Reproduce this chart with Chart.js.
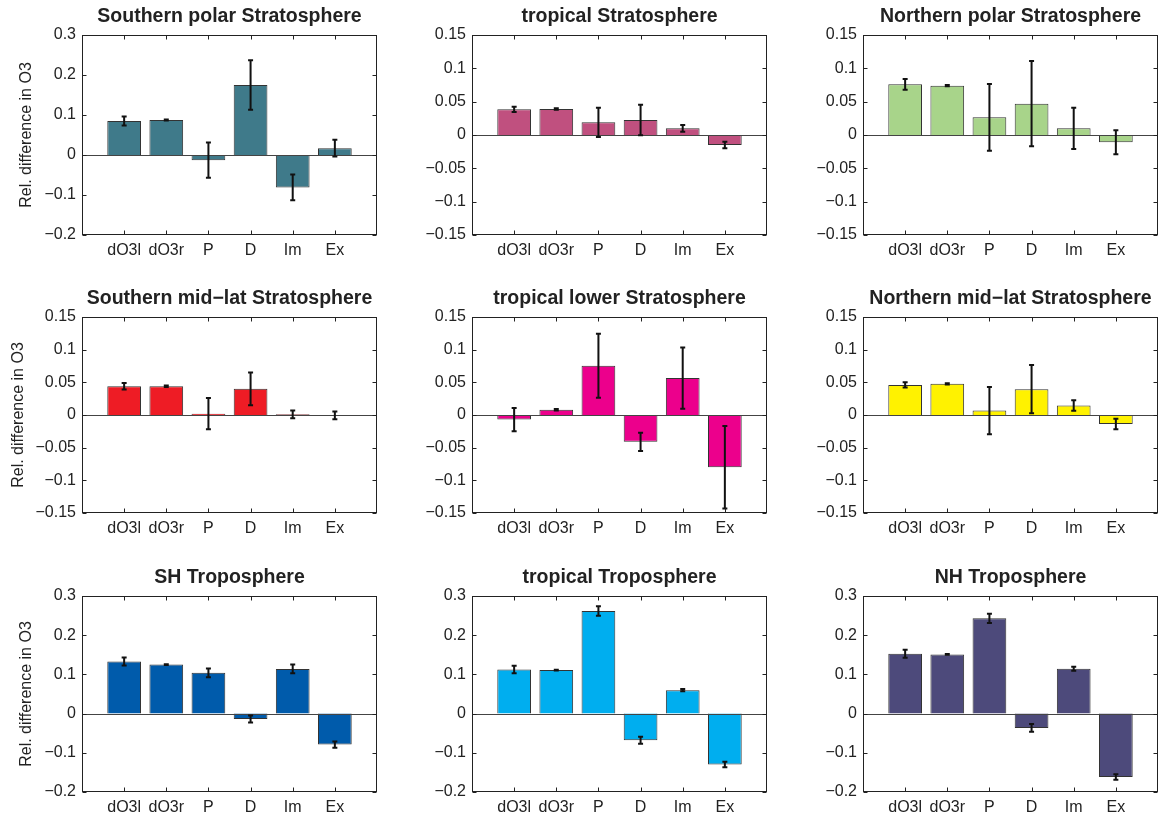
<!DOCTYPE html>
<html lang="en">
<head>
    <meta charset="UTF-8">
    <title>Rel. difference in O3</title>
    <script src="https://cdn.jsdelivr.net/npm/chart.js"></script>
    <style>
        html, body { margin: 0; padding: 0; background: #fff; overflow: hidden; }
        #fig { position: relative; width: 1159px; height: 818px; overflow: hidden; }
        #fig canvas { position: absolute; }
    </style>
</head>
<body>
<div id="fig"></div>
<script>
    // categories on the x axis
    const categories = ['dO3l', 'dO3r', 'P', 'D', 'Im', 'Ex'];

    // y tick labels
    const ticksWide = [-0.2, -0.1, 0, 0.1, 0.2, 0.3];
    const ticksNarrow = [-0.15, -0.1, -0.05, 0, 0.05, 0.1, 0.15];

    // values and error half-widths
    const spsVal = [0.085, 0.0875, -0.013, 0.175, -0.081, 0.017];
    const spsErr = [0.011, 0.0015, 0.044, 0.062, 0.032, 0.021];
    const tsVal = [0.0385, 0.039, 0.019, 0.0225, 0.010, -0.015];
    const tsErr = [0.004, 0.001, 0.022, 0.023, 0.005, 0.005];
    const npsVal = [0.076, 0.074, 0.0265, 0.047, 0.010, -0.011];
    const npsErr = [0.008, 0.001, 0.050, 0.064, 0.031, 0.018];

    const smlVal = [0.044, 0.044, 0.002, 0.040, 0.001, -0.0005];
    const smlErr = [0.005, 0.001, 0.024, 0.025, 0.006, 0.006];
    const tlsVal = [-0.007, 0.008, 0.0755, -0.041, 0.0565, -0.080];
    const tlsErr = [0.0177, 0.001, 0.049, 0.014, 0.047, 0.063];
    const nmlVal = [0.046, 0.0477, 0.0067, 0.0395, 0.0144, -0.0138];
    const nmlErr = [0.004, 0.001, 0.036, 0.037, 0.008, 0.008];

    const shtVal = [0.133, 0.125, 0.104, -0.0136, 0.114, -0.079];
    const shtErr = [0.010, 0.001, 0.011, 0.009, 0.011, 0.008];
    const ttVal = [0.1125, 0.111, 0.2617, -0.068, 0.0597, -0.1296];
    const ttErr = [0.0095, 0.001, 0.012, 0.009, 0.003, 0.007];
    const nhtVal = [0.1527, 0.151, 0.243, -0.0366, 0.1142, -0.162];
    const nhtErr = [0.010, 0.001, 0.012, 0.010, 0.005, 0.007];

    const panels = [
        { title: 'Southern polar Stratosphere', val: spsVal, err: spsErr, ticks: ticksWide, color: '#3f7a8a' },
        { title: 'tropical Stratosphere', val: tsVal, err: tsErr, ticks: ticksNarrow, color: '#c0507f' },
        { title: 'Northern polar Stratosphere', val: npsVal, err: npsErr, ticks: ticksNarrow, color: '#a8d48a' },
        { title: 'Southern mid\u2212lat Stratosphere', val: smlVal, err: smlErr, ticks: ticksNarrow, color: '#ee1c25' },
        { title: 'tropical lower Stratosphere', val: tlsVal, err: tlsErr, ticks: ticksNarrow, color: '#ec008c' },
        { title: 'Northern mid\u2212lat Stratosphere', val: nmlVal, err: nmlErr, ticks: ticksNarrow, color: '#fff200' },
        { title: 'SH Troposphere', val: shtVal, err: shtErr, ticks: ticksWide, color: '#005bab' },
        { title: 'tropical Troposphere', val: ttVal, err: ttErr, ticks: ticksWide, color: '#00aeef' },
        { title: 'NH Troposphere', val: nhtVal, err: nhtErr, ticks: ticksWide, color: '#4d4a7b' }
    ];

    // grid of the figure
    const colLeft = [0, 390, 781];
    const rowTop = [0, 282, 561];
    const plotH = [200, 196, 196];
    const yLabelPad = [17, 8.5, 17];
    const yAxisW = 82, titleH = 35, xAxisH = 30, plotW = 297, padR = 4;

    Chart.defaults.font.family = '"Liberation Sans", Arial, Helvetica, sans-serif';
    Chart.defaults.font.size = 16;
    Chart.defaults.color = '#222';

    function fmt(v) {
        const s = String(Math.round(v * 1000) / 1000);
        return s.replace('-', '\u2212');
    }

    // box, inward ticks, zero line and error bars, like the matlab axes
    const matlabAxes = {
        id: 'matlabAxes',
        afterDatasetsDraw(chart, args, opts) {
            const ctx = chart.ctx;
            const a = chart.chartArea;
            const xs = chart.scales.x, ys = chart.scales.y;
            ctx.save();

            // zero line
            const y0 = Math.round(ys.getPixelForValue(0)) + 0.5;
            ctx.strokeStyle = '#444';
            ctx.lineWidth = 1;
            ctx.beginPath();
            ctx.moveTo(a.left, y0);
            ctx.lineTo(a.right, y0);
            ctx.stroke();

            // error bars
            ctx.strokeStyle = '#111';
            ctx.lineWidth = 2;
            opts.val.forEach((v, i) => {
                const px = xs.getPixelForValue(i + 1);
                const yHi = ys.getPixelForValue(v + opts.err[i]);
                const yLo = ys.getPixelForValue(v - opts.err[i]);
                ctx.beginPath();
                ctx.moveTo(px, yHi);
                ctx.lineTo(px, yLo);
                ctx.moveTo(px - 2.5, yHi);
                ctx.lineTo(px + 2.5, yHi);
                ctx.moveTo(px - 2.5, yLo);
                ctx.lineTo(px + 2.5, yLo);
                ctx.stroke();
            });

            // box
            ctx.strokeStyle = '#222';
            ctx.lineWidth = 1;
            const L = Math.round(a.left) + 0.5, R = Math.round(a.right) - 0.5;
            const T = Math.round(a.top) + 0.5, B = Math.round(a.bottom) - 0.5;
            ctx.strokeRect(L, T, R - L, B - T);

            // inward ticks
            const tl = 4;
            ctx.beginPath();
            ys.ticks.forEach(t => {
                const py = Math.round(ys.getPixelForValue(t.value)) + 0.5;
                ctx.moveTo(L, py); ctx.lineTo(L + tl, py);
                ctx.moveTo(R, py); ctx.lineTo(R - tl, py);
            });
            for (let i = 1; i <= opts.val.length; i++) {
                const px = Math.round(xs.getPixelForValue(i)) + 0.5;
                ctx.moveTo(px, B); ctx.lineTo(px, B - tl);
                ctx.moveTo(px, T); ctx.lineTo(px, T + tl);
            }
            ctx.stroke();
            ctx.restore();
        }
    };

    const fig = document.getElementById('fig');
    const labels = [''].concat(categories, ['']);

    panels.forEach((p, k) => {
        const col = k % 3, row = Math.floor(k / 3);
        const cv = document.createElement('canvas');
        cv.width = yAxisW + plotW + padR;
        cv.height = titleH + plotH[row] + xAxisH;
        cv.style.left = colLeft[col] + 'px';
        cv.style.top = rowTop[row] + 'px';
        fig.appendChild(cv);

        new Chart(cv, {
            type: 'bar',
            data: {
                labels: labels,
                datasets: [{
                    data: [null].concat(p.val, [null]),
                    backgroundColor: p.color,
                    borderColor: '#333',
                    borderWidth: 1,
                    barPercentage: 0.8,
                    categoryPercentage: 1
                }]
            },
            options: {
                responsive: false,
                animation: false,
                layout: { padding: { left: 0, right: padR, top: 0, bottom: 0 } },
                plugins: {
                    legend: { display: false },
                    tooltip: { enabled: false },
                    title: {
                        display: true,
                        text: p.title,
                        fullSize: false,
                        color: '#222',
                        font: { size: 19.5, weight: 'bold' },
                        padding: { top: 5.4, bottom: 6.2 }
                    },
                    matlabAxes: { val: p.val, err: p.err }
                },
                scales: {
                    x: {
                        type: 'category',
                        offset: false,
                        grid: { display: false, drawTicks: false },
                        border: { display: false },
                        ticks: {
                            autoSkip: false,
                            maxRotation: 0,
                            padding: 6,
                            color: '#222'
                        },
                        afterFit(s) { s.height = xAxisH; }
                    },
                    y: {
                        min: p.ticks[0],
                        max: p.ticks[p.ticks.length - 1],
                        grid: { display: false, drawTicks: false },
                        border: { display: false },
                        ticks: {
                            padding: 6,
                            color: '#222',
                            callback: v => fmt(v)
                        },
                        afterBuildTicks(s) { s.ticks = p.ticks.map(v => ({ value: v })); },
                        afterFit(s) { s.width = yAxisW; },
                        title: {
                            display: col === 0,
                            text: 'Rel. difference in O3',
                            color: '#222',
                            font: { size: 16 },
                            padding: { top: yLabelPad[row], bottom: 0 }
                        }
                    }
                }
            },
            plugins: [matlabAxes]
        });
    });
</script>
</body>
</html>
